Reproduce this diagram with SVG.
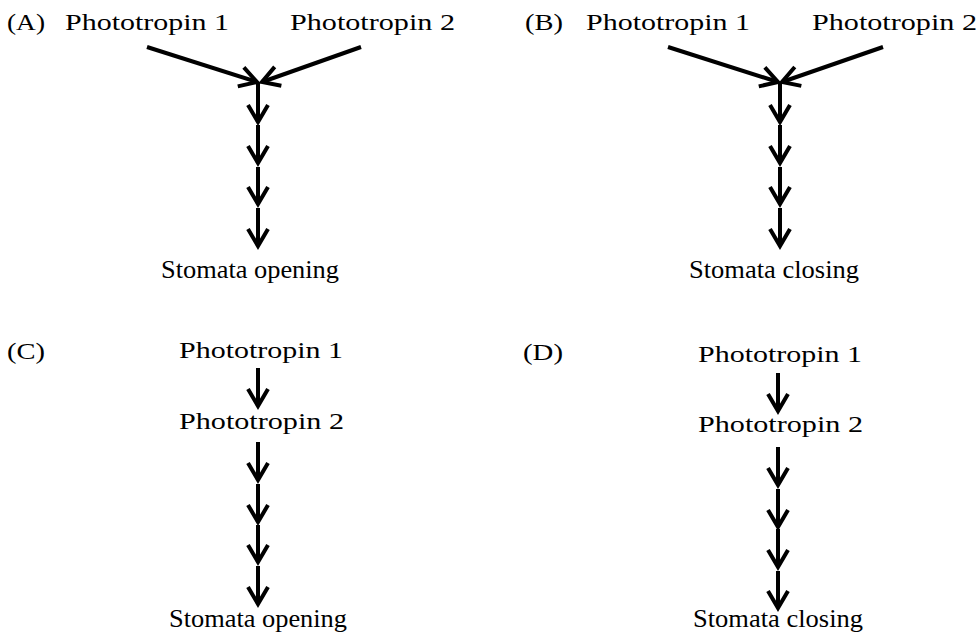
<svg xmlns="http://www.w3.org/2000/svg" width="980" height="634" viewBox="0 0 980 634">
<style>
text{font-family:"Liberation Serif","Times New Roman",serif;fill:#000}
.p{font-size:22.5px}
.s{font-size:26px}
.c line{stroke:#000;stroke-width:4;marker-end:url(#ah)}
</style>
<defs>
<marker id="ah" markerUnits="userSpaceOnUse" viewBox="-30 -20 40 40" refX="0" refY="0" markerWidth="40" markerHeight="40" orient="auto" overflow="visible">
<path d="M-17,-10 L0,0 L-17,10" fill="none" stroke="#000" stroke-width="4" stroke-linejoin="miter"/>
</marker>
</defs>
<rect width="980" height="634" fill="#fff"/>

<!-- Panel A -->
<g id="labelA"><text class="p" x="7" y="30" textLength="38" lengthAdjust="spacingAndGlyphs">(A)</text></g>
<g id="A_phot1"><text class="p" x="65" y="30" textLength="164" lengthAdjust="spacingAndGlyphs">Phototropin 1</text></g>
<g id="A_phot2"><text class="p" x="290" y="30" textLength="165" lengthAdjust="spacingAndGlyphs">Phototropin 2</text></g>
<g id="A_stomata"><text class="s" x="161" y="278" textLength="178" lengthAdjust="spacingAndGlyphs">Stomata opening</text></g>

<!-- Panel B -->
<g id="labelB"><text class="p" x="525" y="30" textLength="38" lengthAdjust="spacingAndGlyphs">(B)</text></g>
<g id="B_phot1"><text class="p" x="586" y="30" textLength="164" lengthAdjust="spacingAndGlyphs">Phototropin 1</text></g>
<g id="B_phot2"><text class="p" x="812" y="30" textLength="165" lengthAdjust="spacingAndGlyphs">Phototropin 2</text></g>
<g id="B_stomata"><text class="s" x="689" y="278" textLength="170" lengthAdjust="spacingAndGlyphs">Stomata closing</text></g>

<!-- Panel C -->
<g id="labelC"><text class="p" x="7" y="359" textLength="38" lengthAdjust="spacingAndGlyphs">(C)</text></g>
<g id="C_phot1"><text class="p" x="179" y="358" textLength="164" lengthAdjust="spacingAndGlyphs">Phototropin 1</text></g>
<g id="C_phot2"><text class="p" x="179" y="429" textLength="165" lengthAdjust="spacingAndGlyphs">Phototropin 2</text></g>
<g id="C_stomata"><text class="s" x="169" y="627" textLength="178" lengthAdjust="spacingAndGlyphs">Stomata opening</text></g>

<!-- Panel D -->
<g id="labelD"><text class="p" x="523" y="360" textLength="40" lengthAdjust="spacingAndGlyphs">(D)</text></g>
<g id="D_phot1"><text class="p" x="698" y="362" textLength="164" lengthAdjust="spacingAndGlyphs">Phototropin 1</text></g>
<g id="D_phot2"><text class="p" x="698" y="432" textLength="165" lengthAdjust="spacingAndGlyphs">Phototropin 2</text></g>
<g id="D_stomata"><text class="s" x="693" y="627" textLength="170" lengthAdjust="spacingAndGlyphs">Stomata closing</text></g>

<g id="connectors" class="c">
<!-- A -->
<line x1="147" y1="47" x2="257" y2="82"/>
<line x1="361" y1="47" x2="262" y2="82"/>
<line x1="258" y1="83" x2="258" y2="122"/>
<line x1="258" y1="125" x2="258" y2="163"/>
<line x1="258" y1="167" x2="258" y2="204"/>
<line x1="258" y1="208" x2="258" y2="246"/>
<!-- B -->
<line x1="668" y1="47" x2="778" y2="82"/>
<line x1="883" y1="47" x2="782" y2="82"/>
<line x1="780" y1="83" x2="780" y2="122"/>
<line x1="780" y1="125" x2="780" y2="163"/>
<line x1="780" y1="167" x2="780" y2="204"/>
<line x1="780" y1="208" x2="780" y2="246"/>
<!-- C -->
<line x1="258" y1="368" x2="258" y2="406"/>
<line x1="258" y1="442" x2="258" y2="480"/>
<line x1="258" y1="484" x2="258" y2="522"/>
<line x1="258" y1="525" x2="258" y2="562"/>
<line x1="258" y1="566" x2="258" y2="604"/>
<!-- D -->
<line x1="778" y1="373" x2="778" y2="411"/>
<line x1="778" y1="447" x2="778" y2="485"/>
<line x1="778" y1="489" x2="778" y2="527"/>
<line x1="778" y1="529" x2="778" y2="567"/>
<line x1="778" y1="571" x2="778" y2="608"/>
</g>
</svg>
